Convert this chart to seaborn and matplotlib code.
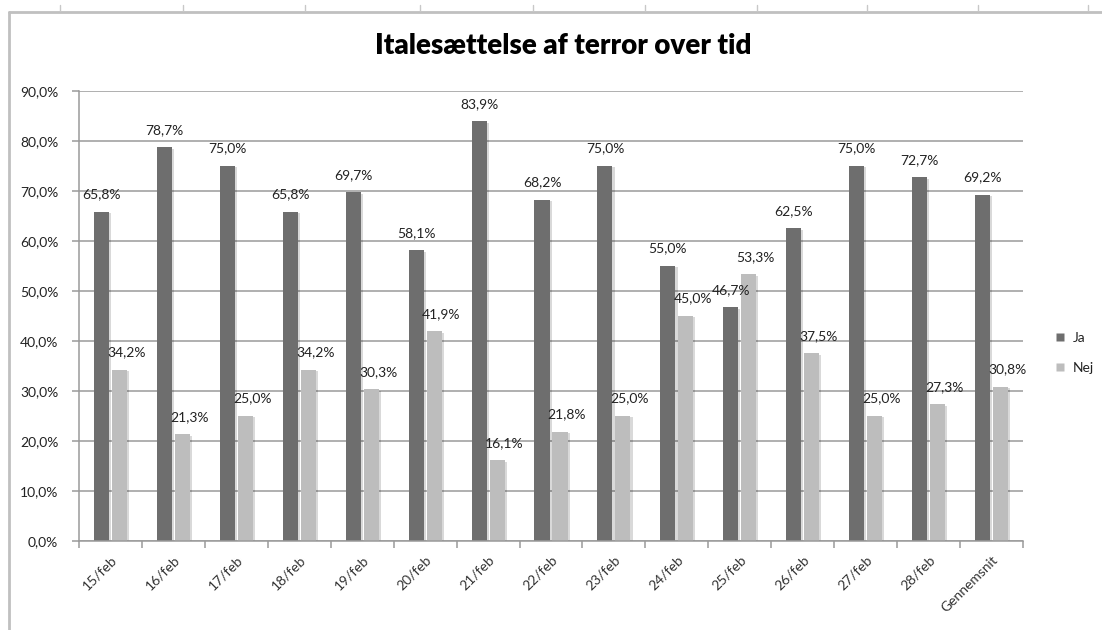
import matplotlib
matplotlib.use("Agg")
import matplotlib.pyplot as plt
import matplotlib.patheffects as pe
from matplotlib.lines import Line2D
import seaborn as sns
import pandas as pd

# data
dage = ['15/feb', '16/feb', '17/feb', '18/feb', '19/feb', '20/feb', '21/feb',
        '22/feb', '23/feb', '24/feb', '25/feb', '26/feb', '27/feb', '28/feb',
        'Gennemsnit']
ja = [65.8, 78.7, 75.0, 65.8, 69.7, 58.1, 83.9, 68.2, 75.0, 55.0, 46.7, 62.5,
      75.0, 72.7, 69.2]
nej = [34.2, 21.3, 25.0, 34.2, 30.3, 41.9, 16.1, 21.8, 25.0, 45.0, 53.3, 37.5,
       25.0, 27.3, 30.8]
serier = ['Ja', 'Nej']
farver = {'Ja': '#6e6e6e', 'Nej': '#bdbdbd'}

df = pd.DataFrame({
    'dag': dage * 2,
    'andel': ja + nej,
    'svar': ['Ja'] * len(dage) + ['Nej'] * len(dage),
})

sns.set_theme(style="white")
plt.rcParams['font.family'] = ['Lato', 'DejaVu Sans']

fig = plt.figure(figsize=(11.02, 6.3), dpi=100)
ax = fig.add_axes([0.0717, 0.1413, 0.8566, 0.7143])

sns.barplot(data=df, x='dag', y='andel', hue='svar', order=dage,
            hue_order=serier, palette=farver, width=0.57, gap=0.16,
            saturation=1, edgecolor='none', legend=False, ax=ax)

# bløde skygger som i Excel
skygge = [pe.SimplePatchShadow(offset=(1.5, -1), shadow_rgbFace='#000000', alpha=0.15),
          pe.Normal()]
for cont in ax.containers:
    for p in cont:
        p.set_path_effects(skygge)

# dataetiketter
for cont, navn in zip(ax.containers, serier):
    dx = 0 if navn == 'Ja' else 5
    for p in cont:
        v = p.get_height()
        ax.annotate(f"{v:.1f}%".replace('.', ','),
                    (p.get_x() + p.get_width() / 2, v),
                    xytext=(dx, 12.5), textcoords='offset points',
                    ha='center', va='center', fontsize=10, color='#222222')

ax.set_ylim(0, 90)
ax.set_xlim(-0.5, len(dage) - 0.5)
ax.set_yticks(range(0, 91, 10))
ax.set_yticklabels([f"{t},0%" for t in range(0, 91, 10)], fontsize=10, color='#222222')
ax.yaxis.grid(True, color='#9a9a9a', linewidth=1.1)
ax.set_axisbelow(True)

ax.set_xticks(range(len(dage)))
ax.set_xticklabels(dage, rotation=45, ha='right', rotation_mode='anchor',
                   fontsize=10, color='#333333')
ax.set_xticks([i - 0.5 for i in range(len(dage) + 1)], minor=True)
ax.tick_params(axis='x', which='major', length=0, pad=9)
ax.tick_params(axis='x', which='minor', length=5, width=1.1, color='#9a9a9a',
               direction='out', bottom=True)
ax.tick_params(axis='y', length=5, width=1.1, color='#9a9a9a', direction='out',
               left=True, pad=10)
ax.set_xlabel('')
ax.set_ylabel('')

for s in ['top', 'right']:
    ax.spines[s].set_visible(False)
for s in ['left', 'bottom']:
    ax.spines[s].set_color('#9a9a9a')
    ax.spines[s].set_linewidth(1.1)

fig.text(563 / 1102, 1 - 46 / 630, 'Italesættelse af terror over tid',
         ha='center', va='center', fontsize=20, fontweight='heavy', color='#000000')

handles = [Line2D([], [], marker='s', linestyle='none', markersize=6,
                  markerfacecolor=farver[n], markeredgecolor='none') for n in serier]
fig.legend(handles, serier, loc='center left',
           bbox_to_anchor=(1042 / 1102, 1 - 353 / 630), frameon=False,
           fontsize=10, handlelength=0.8, handletextpad=0.5, labelspacing=1.3,
           labelcolor='#222222')

# regnearksramme rundt om diagrammet
fig.add_artist(Line2D([9 / 1102, 1], [1 - 12 / 630] * 2, color='#c0c0c0', lw=2))
fig.add_artist(Line2D([9 / 1102] * 2, [0, 1 - 12 / 630], color='#c0c0c0', lw=2))
for x in [60, 183, 305, 420, 533, 645, 757, 867, 978, 1088]:
    fig.add_artist(Line2D([x / 1102] * 2, [1 - 5 / 630, 1 - 11 / 630],
                          color='#c8c8c8', lw=1))

fig.savefig('out.png', dpi=100)
